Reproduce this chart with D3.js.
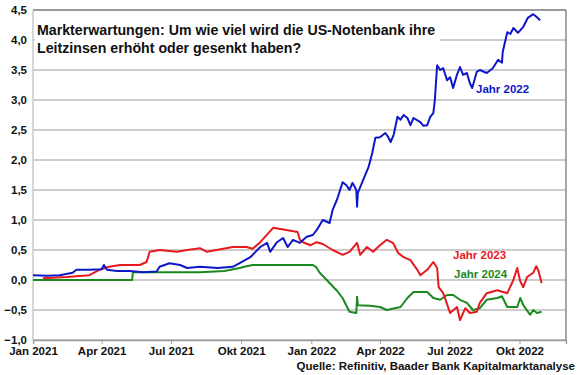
<!DOCTYPE html>
<html lang="de">
<head>
<meta charset="utf-8" />
<title>Markterwartungen Fed</title>
<style>
html,body{margin:0;background:#fff}
svg{display:block;font-family:"Liberation Sans",Arial,sans-serif;font-weight:bold}
</style>
<script src="https://cdn.jsdelivr.net/npm/d3@7/dist/d3.min.js"></script>
</head>
<body>
<div id="chart"></div>
<script>
/* ---------------- data ---------------- */
const yTicks = [-1, -0.5, 0, 0.5, 1, 1.5, 2, 2.5, 3, 3.5, 4, 4.5];
const xTicks = ["2021-01-01","2021-04-01","2021-07-01","2021-10-01","2022-01-01","2022-04-01","2022-07-01","2022-10-01"];
const monthNames = ["Jan","Feb","Mär","Apr","Mai","Jun","Jul","Aug","Sep","Okt","Nov","Dez"];

const dates2022 = ["2021-01-01","2021-01-19","2021-02-05","2021-02-22","2021-02-27","2021-03-16","2021-04-01","2021-04-04","2021-04-08","2021-04-21","2021-05-08","2021-05-25","2021-06-12","2021-06-16","2021-06-29","2021-07-13","2021-07-22","2021-08-08","2021-08-31","2021-09-20","2021-09-29","2021-10-13","2021-10-26","2021-11-04","2021-11-08","2021-11-17","2021-11-25","2021-12-01","2021-12-08","2021-12-17","2021-12-26","2022-01-03","2022-01-08","2022-01-16","2022-01-25","2022-01-29","2022-02-04","2022-02-11","2022-02-16","2022-02-20","2022-02-24","2022-03-01","2022-03-02","2022-03-03","2022-03-10","2022-03-17","2022-03-22","2022-03-26","2022-04-01","2022-04-08","2022-04-12","2022-04-15","2022-04-19","2022-04-24","2022-04-28","2022-05-02","2022-05-07","2022-05-11","2022-05-15","2022-05-24","2022-05-28","2022-06-02","2022-06-06","2022-06-10","2022-06-12","2022-06-15","2022-06-19","2022-06-23","2022-06-28","2022-07-02","2022-07-06","2022-07-11","2022-07-15","2022-07-19","2022-07-24","2022-07-28","2022-07-31","2022-08-06","2022-08-10","2022-08-19","2022-08-27","2022-09-03","2022-09-08","2022-09-09","2022-09-15","2022-09-19","2022-09-23","2022-09-29","2022-10-06","2022-10-12","2022-10-19","2022-10-24","2022-10-28"];
const values2022 = [0.08,0.07,0.08,0.12,0.17,0.17,0.18,0.25,0.17,0.15,0.15,0.13,0.14,0.22,0.28,0.25,0.2,0.22,0.2,0.22,0.28,0.38,0.55,0.62,0.47,0.63,0.7,0.55,0.67,0.62,0.72,0.75,0.83,1.0,0.95,1.17,1.35,1.63,1.58,1.5,1.62,1.5,1.22,1.45,1.67,1.88,2.12,2.37,2.38,2.45,2.38,2.3,2.42,2.72,2.67,2.75,2.7,2.58,2.7,2.63,2.57,2.58,2.72,2.78,3.0,3.58,3.5,3.53,3.33,3.38,3.2,3.42,3.55,3.42,3.45,3.28,3.2,3.47,3.5,3.45,3.53,3.67,3.62,3.8,4.13,4.1,4.2,4.12,4.22,4.37,4.43,4.38,4.33];

const dates2023 = ["2021-01-14","2021-02-14","2021-03-16","2021-03-29","2021-04-11","2021-04-25","2021-05-21","2021-05-30","2021-06-03","2021-06-16","2021-07-09","2021-07-22","2021-08-08","2021-08-17","2021-09-20","2021-10-08","2021-10-16","2021-10-26","2021-11-12","2021-12-01","2021-12-14","2021-12-17","2021-12-21","2021-12-31","2022-01-08","2022-01-16","2022-01-29","2022-02-11","2022-02-20","2022-03-02","2022-03-06","2022-03-15","2022-03-23","2022-04-01","2022-04-10","2022-04-18","2022-04-25","2022-05-02","2022-05-11","2022-05-20","2022-05-24","2022-06-02","2022-06-10","2022-06-15","2022-06-17","2022-06-23","2022-07-02","2022-07-11","2022-07-15","2022-07-22","2022-07-28","2022-08-06","2022-08-10","2022-08-19","2022-09-02","2022-09-15","2022-09-23","2022-09-28","2022-10-02","2022-10-06","2022-10-11","2022-10-19","2022-10-23","2022-10-26","2022-10-30"];
const values2023 = [0.03,0.05,0.08,0.17,0.22,0.25,0.25,0.3,0.47,0.5,0.47,0.5,0.53,0.47,0.55,0.55,0.52,0.63,0.87,0.83,0.8,0.67,0.63,0.58,0.63,0.6,0.5,0.42,0.47,0.62,0.42,0.55,0.47,0.58,0.67,0.62,0.45,0.38,0.33,0.17,0.08,0.17,0.3,0.2,-0.12,-0.22,-0.55,-0.45,-0.67,-0.47,-0.55,-0.53,-0.38,-0.22,-0.17,-0.22,0.0,0.2,-0.02,-0.12,0.05,0.12,0.23,0.15,-0.05];

const dates2024 = ["2021-01-01","2021-05-11","2021-05-12","2021-08-08","2021-09-09","2021-09-29","2021-10-05","2021-10-16","2022-01-03","2022-01-07","2022-01-12","2022-01-25","2022-02-03","2022-02-11","2022-02-20","2022-03-01","2022-03-02","2022-03-03","2022-03-19","2022-04-01","2022-04-10","2022-04-28","2022-05-07","2022-05-15","2022-06-02","2022-06-10","2022-06-19","2022-06-28","2022-07-06","2022-07-15","2022-07-24","2022-08-01","2022-08-10","2022-08-19","2022-09-02","2022-09-08","2022-09-15","2022-09-28","2022-10-02","2022-10-06","2022-10-15","2022-10-19","2022-10-24","2022-10-30"];
const values2024 = [0,0,0.13,0.13,0.15,0.2,0.22,0.25,0.25,0.22,0.12,-0.05,-0.17,-0.3,-0.53,-0.55,-0.28,-0.42,-0.43,-0.45,-0.5,-0.45,-0.3,-0.2,-0.2,-0.3,-0.33,-0.25,-0.25,-0.33,-0.38,-0.5,-0.47,-0.33,-0.3,-0.27,-0.45,-0.45,-0.3,-0.42,-0.58,-0.5,-0.55,-0.53];

const seriesNames  = ["Jahr 2022","Jahr 2023","Jahr 2024"];
const seriesColors = ["#0d17c9","#e8191c","#1a8a1f"];

/* ---------------- layout ---------------- */
const W = 580, H = 375;
const m = {left: 33, right: 14, top: 10, bottom: 35};
const parse = d3.timeParse("%Y-%m-%d");

const x = d3.scaleTime()
    .domain([parse("2021-01-01"), parse("2022-12-01")])
    .range([m.left, W - m.right]);
const y = d3.scaleLinear().domain([-1, 4.5]).range([H - m.bottom, m.top]);

const svg = d3.select("#chart").append("svg")
    .attr("width", W).attr("height", H);

// grid
svg.append("g").selectAll("line").data(yTicks).join("line")
    .attr("x1", m.left).attr("x2", W - m.right)
    .attr("y1", d => y(d)).attr("y2", d => y(d))
    .attr("stroke", d => d === 4.5 ? "#777" : "#bdbdbd")
    .attr("stroke-width", 1.3);

// frame (right + left)
svg.append("line").attr("x1", W - m.right).attr("x2", W - m.right)
    .attr("y1", y(4.5)).attr("y2", y(-1)).attr("stroke", "#777").attr("stroke-width", 1.3);
svg.append("line").attr("x1", m.left).attr("x2", m.left)
    .attr("y1", y(4.5)).attr("y2", y(-1)).attr("stroke", "#c8c8c8").attr("stroke-width", 1.5);

// y axis
const fmt = d => d3.format(".1f")(d).replace(".", ",");
const yAxis = svg.append("g").attr("transform", `translate(${m.left},0)`)
    .call(d3.axisLeft(y).tickValues(yTicks).tickSize(0).tickPadding(6).tickFormat(fmt));
yAxis.select(".domain").remove();
yAxis.selectAll("text").attr("font-size", 11.5).attr("font-family", null).attr("fill", "#111");

// x axis
const xAxis = svg.append("g").attr("transform", `translate(0,${y(-1)})`)
    .call(d3.axisBottom(x).tickValues(xTicks.map(parse)).tickSize(4).tickPadding(3)
      .tickFormat(d => monthNames[d.getMonth()] + " " + d.getFullYear()));
xAxis.select(".domain").attr("stroke", "#999").attr("stroke-width", 1.3);
xAxis.selectAll(".tick line").attr("stroke", "#999");
xAxis.selectAll("text").attr("font-size", 11.5).attr("font-family", null).attr("fill", "#111");

// lines
const line = d3.line().x(d => x(d.date)).y(d => y(d.value));
const series = [
  d3.zip(dates2022, values2022),
  d3.zip(dates2023, values2023),
  d3.zip(dates2024, values2024)
].map(arr => arr.map(([d, v]) => ({date: parse(d), value: v})));

// draw order: green, red, blue
[2, 1, 0].forEach(i => {
  svg.append("path").datum(series[i])
     .attr("fill", "none")
     .attr("stroke", seriesColors[i])
     .attr("stroke-width", 2)
     .attr("stroke-linejoin", "round")
     .attr("d", line);
});

// labels
const labelPos = [[476, 93], [453, 259], [454, 278]];
seriesNames.forEach((n, i) => {
  svg.append("text").attr("x", labelPos[i][0]).attr("y", labelPos[i][1])
     .attr("fill", seriesColors[i]).attr("font-size", 11.5).text(n);
});

// title
const title = ["Markterwartungen: Um wie viel wird die US-Notenbank ihre",
               "Leitzinsen erhöht oder gesenkt haben?"];
svg.append("rect").attr("x", 35).attr("y", 20).attr("width", 405).attr("height", 40).attr("fill", "#fff");
title.forEach((t, i) => {
  svg.append("text").attr("x", 37).attr("y", 35 + i * 18)
     .attr("font-size", 14.2).attr("fill", "#111").text(t);
});

// source
svg.append("text").attr("x", W - 5).attr("y", 370).attr("text-anchor", "end")
   .attr("font-size", 11.5).attr("fill", "#111")
   .text("Quelle: Refinitiv, Baader Bank Kapitalmarktanalyse");
</script>
</body>
</html>
